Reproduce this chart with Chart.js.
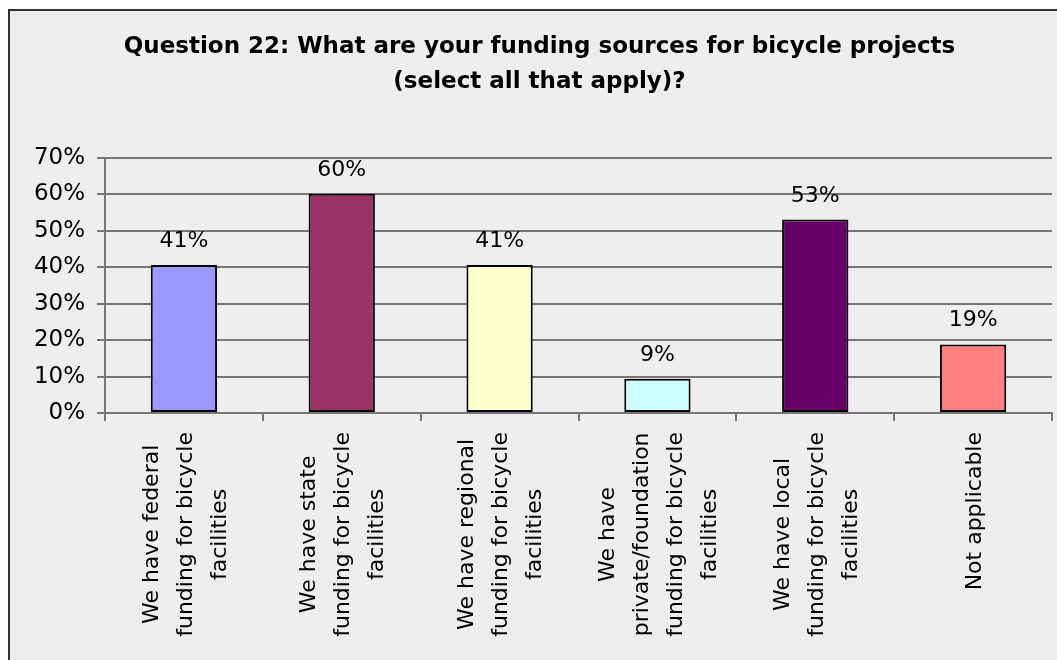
<!DOCTYPE html>
<html>
<head>
<meta charset="utf-8">
<script src="https://cdn.jsdelivr.net/npm/chart.js@4/dist/chart.umd.min.js"></script>
<style>
html,body{margin:0;padding:0;background:#fff;}
#wrap{position:absolute;left:0;top:0;width:1057px;height:660px;}
</style>
</head>
<body>
<div id="wrap"><canvas id="c" width="1057" height="660"></canvas></div>
<script>
const titleLines = ["Question 22: What are your funding sources for bicycle projects", "(select all that apply)?"];
const categories = [
  ["We have federal", "funding for bicycle", "facilities"],
  ["We have state", "funding for bicycle", "facilities"],
  ["We have regional", "funding for bicycle", "facilities"],
  ["We have", "private/foundation", "funding for bicycle", "facilities"],
  ["We have local", "funding for bicycle", "facilities"],
  ["Not applicable"]
];
const values = [40.6, 60.2, 40.6, 9.4, 53.1, 18.8];
const barColors = ["#9999FF", "#993366", "#FFFFCC", "#CCFFFF", "#660066", "#FF8080"];
const yTicks = [0, 10, 20, 30, 40, 50, 60, 70];

const FONT = "'DejaVu Sans', Verdana, sans-serif";
const GRID = "#767676";

const bgPlugin = {
  id: 'bg',
  beforeDraw(chart) {
    const ctx = chart.ctx;
    ctx.save();
    ctx.fillStyle = '#ffffff';
    ctx.fillRect(0, 0, chart.width, chart.height);
    ctx.fillStyle = '#eeeeee';
    ctx.fillRect(9, 10, chart.width, chart.height);
    ctx.strokeStyle = '#333333';
    ctx.lineWidth = 2;
    ctx.beginPath();
    ctx.moveTo(9, chart.height);
    ctx.lineTo(9, 10);
    ctx.lineTo(chart.width, 10);
    ctx.stroke();
    ctx.restore();
  }
};

const labelPlugin = {
  id: 'labels',
  afterDatasetsDraw(chart) {
    const ctx = chart.ctx;
    const meta = chart.getDatasetMeta(0);
    ctx.save();
    ctx.fillStyle = '#000';
    ctx.font = "22px " + FONT;
    ctx.textAlign = 'center';
    ctx.textBaseline = 'alphabetic';
    meta.data.forEach((bar, i) => {
      ctx.fillText(Math.round(values[i]) + '%', bar.x, bar.y - 18);
    });
    // x category labels, rotated, lines centered within block
    const xs = chart.scales.x;
    const lineGap = 34;
    categories.forEach((lines, i) => {
      const cx = xs.getPixelForValue(i) + 2;
      let maxW = 0;
      lines.forEach(l => { maxW = Math.max(maxW, ctx.measureText(l).width); });
      const top = xs.top + 19;
      const cy = top + maxW / 2;
      lines.forEach((l, j) => {
        const lx = cx + (j - (lines.length - 1) / 2) * lineGap;
        ctx.save();
        ctx.translate(lx, cy);
        ctx.rotate(-Math.PI / 2);
        ctx.textAlign = 'center';
        ctx.textBaseline = 'middle';
        ctx.fillText(l, 0, 0);
        ctx.restore();
      });
    });
    ctx.restore();
  }
};

new Chart(document.getElementById('c'), {
  type: 'bar',
  data: {
    labels: categories.map(c => c.join(' ')),
    datasets: [{
      data: values,
      backgroundColor: barColors,
      borderColor: '#000000',
      borderWidth: 2,
      borderSkipped: false,
      barPercentage: 0.42,
      categoryPercentage: 1.0
    }]
  },
  options: {
    responsive: false,
    animation: false,
    devicePixelRatio: 1,
    layout: { padding: { left: 27, right: 5, top: 0, bottom: 0 } },
    plugins: {
      legend: { display: false },
      tooltip: { enabled: false },
      title: {
        display: true,
        text: titleLines,
        color: '#000',
        font: { family: FONT, size: 23, weight: 'bold', lineHeight: 1.52 },
        padding: { top: 30, bottom: 58 }
      }
    },
    scales: {
      x: {
        offset: true,
        ticks: { display: false },
        grid: { display: true, drawOnChartArea: false, drawTicks: true, tickLength: 8, color: GRID, lineWidth: 2, offset: true },
        border: { display: true, color: GRID, width: 2 },
        afterFit(s) { s.height = 247; }
      },
      y: {
        min: 0, max: 70,
        afterBuildTicks(s) { s.ticks = yTicks.map(v => ({ value: v })); },
        ticks: {
          color: '#000',
          font: { family: FONT, size: 23 },
          padding: 12,
          callback: v => v + '%'
        },
        grid: { color: GRID, lineWidth: 2, tickLength: 8, drawTicks: true },
        border: { display: true, color: GRID, width: 2 },
        afterFit(s) { s.width = 78; }
      }
    }
  },
  plugins: [bgPlugin, labelPlugin]
});
</script>
</body>
</html>
